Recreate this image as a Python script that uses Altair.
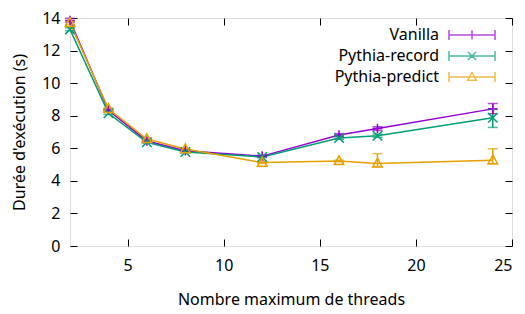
import altair as alt
import pandas as pd

threads = [2, 4, 6, 8, 12, 16, 18, 24]
series_names = ["Vanilla", "Pythia-record", "Pythia-predict"]
colors = ["#9400d3", "#009e73", "#e69f00"]

vanilla = [13.85, 8.33, 6.45, 5.85, 5.52, 6.81, 7.21, 8.42]
vanilla_lo = [13.75, 8.27, 6.40, 5.80, 5.46, 6.72, 7.10, 8.12]
vanilla_hi = [13.98, 8.40, 6.50, 5.90, 5.58, 6.90, 7.32, 8.75]

record = [13.30, 8.15, 6.37, 5.77, 5.47, 6.63, 6.77, 7.87]
record_lo = [13.22, 8.08, 6.32, 5.72, 5.42, 6.55, 6.68, 7.28]
record_hi = [13.40, 8.22, 6.42, 5.82, 5.52, 6.72, 6.87, 8.38]

predict = [13.70, 8.42, 6.57, 5.95, 5.12, 5.22, 5.07, 5.27]
predict_lo = [13.60, 8.35, 6.50, 5.90, 5.07, 5.17, 4.87, 5.05]
predict_hi = [13.80, 8.48, 6.62, 6.00, 5.17, 5.27, 5.67, 5.97]

rows = []
for name, ys, los, his in [
    ("Vanilla", vanilla, vanilla_lo, vanilla_hi),
    ("Pythia-record", record, record_lo, record_hi),
    ("Pythia-predict", predict, predict_lo, predict_hi),
]:
    for t, y, lo, hi in zip(threads, ys, los, his):
        rows.append({"series": name, "threads": t, "time": y, "lo": lo, "hi": hi})
df = pd.DataFrame(rows)

W, H = 442, 228
FONT = "Noto Sans"
FS = 16

xscale = alt.Scale(domain=[2, 25], nice=False, zero=False)
yscale = alt.Scale(domain=[0, 14], nice=False)
cscale = alt.Scale(domain=series_names, range=colors)

def xaxis(**kw):
    base = dict(grid=False, values=[5, 10, 15, 20, 25], tickColor="black",
                domain=False, labelFont=FONT, labelFontSize=FS, labelColor="black",
                titleFont=FONT, titleFontSize=FS, titleColor="black", titleFontWeight="normal")
    base.update(kw)
    return alt.Axis(**base)

def yaxis(**kw):
    base = dict(grid=False, values=[0, 2, 4, 6, 8, 10, 12, 14], tickColor="black",
                domain=False, labelFont=FONT, labelFontSize=FS, labelColor="black",
                titleFont=FONT, titleFontSize=FS, titleColor="black", titleFontWeight="normal")
    base.update(kw)
    return alt.Axis(**base)

base = alt.Chart(df)

lines = base.mark_line(strokeWidth=1.5).encode(
    x=alt.X("threads:Q", scale=xscale,
            axis=xaxis(title="Nombre maximum de threads", ticks=False, labelPadding=11, titlePadding=18)),
    y=alt.Y("time:Q", scale=yscale,
            axis=yaxis(title="Durée d'exécution (s)", ticks=False, labelPadding=10, titlePadding=14)),
    color=alt.Color("series:N", scale=cscale),
    detail="series:N",
)

err = base.mark_rule(strokeWidth=1.5).encode(
    x=alt.X("threads:Q", scale=xscale,
            axis=xaxis(title=None, orient="top", offset=-H, labels=False, tickSize=7, tickWidth=1)),
    y=alt.Y("lo:Q", scale=yscale,
            axis=yaxis(title=None, orient="right", offset=-W, labels=False, tickSize=7, tickWidth=1)),
    y2="hi:Q",
    color=alt.Color("series:N", scale=cscale),
)

caps_lo = base.mark_tick(orient="horizontal", size=10, thickness=1.5).encode(
    x=alt.X("threads:Q", scale=xscale,
            axis=xaxis(title=None, orient="bottom", offset=-H, labels=False, tickSize=7, tickWidth=1)),
    y=alt.Y("lo:Q", scale=yscale,
            axis=yaxis(title=None, orient="left", offset=-W, labels=False, tickSize=7, tickWidth=1)),
    color=alt.Color("series:N", scale=cscale),
)

caps_hi = base.mark_tick(orient="horizontal", size=10, thickness=1.5).encode(
    x=alt.X("threads:Q", scale=xscale, axis=None),
    y=alt.Y("hi:Q", scale=yscale, axis=None),
    color=alt.Color("series:N", scale=cscale),
)

marker_paths = {
    "Vanilla": "M-1,0H1M0,-1V1",
    "Pythia-record": "M-1,-1L1,1M-1,1L1,-1",
    "Pythia-predict": "M0,-1.1L1,0.75L-1,0.75Z",
}
marker_layers = []
for name in series_names:
    marker_layers.append(
        base.transform_filter(alt.datum.series == name)
        .mark_point(shape=marker_paths[name], filled=False, strokeWidth=1.5, size=90, opacity=1)
        .encode(
            x=alt.X("threads:Q", scale=xscale, axis=None),
            y=alt.Y("time:Q", scale=yscale, axis=None),
            color=alt.Color("series:N", scale=cscale),
        )
    )

# legend symbol: error-bar sample drawn to the right of the label
L0, L1 = 3.6, 12.8
LM = (L0 + L1) / 2
tri = (f"M{LM},-0.95L{LM+0.85},0.65L{LM-0.85},0.65L{LM},-0.95"
       f"L{LM-0.85},0.65L{LM+0.85},0.65L{LM},-0.95")
legend_paths = [
    f"M{L0},0H{L1}M{L0},-1V1M{L1},-1V1M{LM},-0.9V0.9",
    f"M{L0},0H{L1}M{L0},-1V1M{L1},-1V1M{LM-0.8},-0.8L{LM+0.8},0.8M{LM-0.8},0.8L{LM+0.8},-0.8",
    f"M{L0},0H{L1}M{L0},-1V1M{L1},-1V1" + tri,
]
legend_cfg = alt.Legend(
    title=None, orient="none", legendX=353, legendY=9, symbolSize=100,
    symbolStrokeWidth=1.5, symbolFillColor="transparent", labelAlign="right",
    labelOffset=0, labelFont=FONT, labelFontSize=FS, labelColor="black",
    rowPadding=5, symbolOpacity=1,
)
legend_layer = base.mark_point(filled=False, strokeWidth=1.5, opacity=0).encode(
    x=alt.X("threads:Q", scale=xscale, axis=None),
    y=alt.Y("time:Q", scale=yscale, axis=None),
    color=alt.Color("series:N", scale=cscale, legend=legend_cfg),
    shape=alt.Shape("series:N", scale=alt.Scale(domain=series_names, range=legend_paths), legend=legend_cfg),
)

chart = alt.layer(lines, err, caps_lo, caps_hi, *marker_layers, legend_layer).resolve_axis(
    x="independent", y="independent"
).properties(
    width=W, height=H,
    autosize=alt.AutoSizeParams(type="none"),
    padding={"left": 62, "top": 10, "right": 5, "bottom": 68},
).configure_view(stroke="black", strokeWidth=1.5).configure(background="white")

chart.save("out.html", embed_options={"renderer": "svg", "actions": False})
